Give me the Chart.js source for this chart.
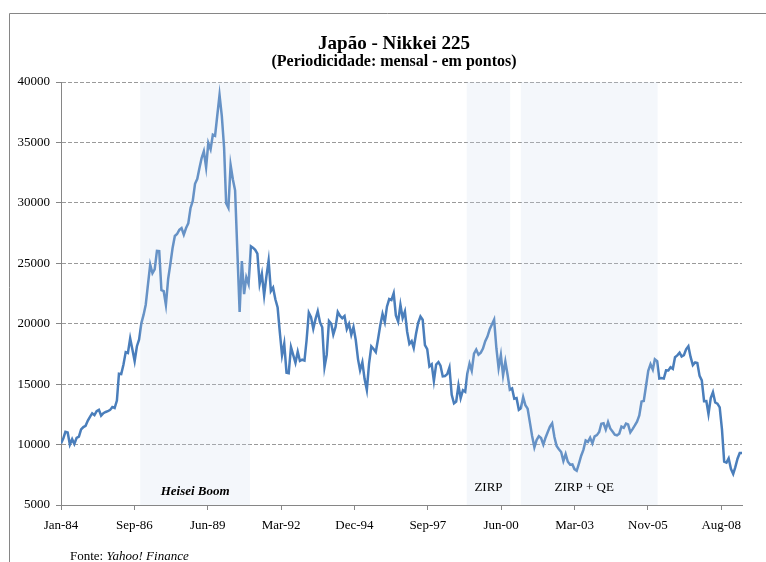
<!DOCTYPE html>
<html>
<head>
<meta charset="utf-8">
<script src="https://cdn.jsdelivr.net/npm/chart.js@4.4.1/dist/chart.umd.min.js"></script>
<style>
  html, body { margin: 0; padding: 0; background: #fff; }
  #wrap { position: relative; width: 766px; height: 562px; }
</style>
</head>
<body>
<div id="wrap"><canvas id="myChart" width="766" height="562"></canvas></div>
<script>
// Nikkei 225, fechamento mensal (pontos), a partir de jan/1984
const firstYear = 1984;
const closes = [
    10100, 10500, 11050, 11000, 10000, 10450, 10050, 10550, 10650, 11250, 11450, 11550, // 1984
    11990, 12320, 12580, 12430, 12760, 12880, 12400, 12600, 12700, 12760, 12870, 13110, // 1985
    13020, 13640, 15860, 15830, 16610, 17650, 17580, 18790, 17850, 16910, 18140, 18700, // 1986
    20050, 20770, 21570, 23270, 24900, 24180, 24490, 26030, 26010, 22770, 22690, 21560, // 1987
    23720, 24990, 26260, 27260, 27420, 27770, 27910, 27370, 27920, 28300, 29580, 30160, // 1988
    31580, 31990, 32840, 33710, 34270, 32950, 34950, 34430, 35640, 35550, 37270, 38920, // 1989
    37190, 34590, 29980, 29590, 33130, 31940, 31040, 25980, 20980, 25190, 22450, 23850, // 1990
    23290, 26410, 26290, 26110, 25790, 23290, 24120, 22340, 23920, 25220, 22690, 22980, // 1991
    22020, 21340, 19350, 17390, 18350, 15950, 15910, 18060, 17400, 16770, 17680, 16920, // 1992
    17020, 16950, 18590, 20920, 20550, 19590, 20380, 21030, 20110, 19700, 16410, 17420, // 1993
    20230, 20000, 19110, 19730, 20970, 20640, 20450, 20630, 19560, 19990, 19080, 19720, // 1994
    18650, 17050, 16140, 16810, 15440, 14520, 16680, 18120, 17910, 17650, 18740, 19870, // 1995
    20810, 20130, 21410, 22040, 21960, 22530, 20690, 20170, 21560, 20470, 21020, 19360, // 1996
    18330, 18560, 18000, 19150, 20070, 20600, 20330, 18230, 17890, 16460, 16640, 15260, // 1997
    16630, 16830, 16530, 15640, 15670, 15830, 16380, 14110, 13410, 13560, 14880, 13840, // 1998
    14500, 14370, 15840, 16700, 16110, 17530, 17860, 17440, 17610, 17940, 18560, 18930, // 1999
    19540, 19960, 20340, 17970, 16330, 17410, 15730, 16860, 15750, 14540, 14650, 13790, // 2000
    13840, 12880, 13000, 13930, 13260, 12970, 11860, 10710, 9770, 10370, 10700, 10540,  // 2001
    10000, 10590, 11020, 11490, 11760, 10620, 9880, 9620, 9380, 8640, 9220, 8580,       // 2002
    8340, 8360, 7970, 7830, 8420, 9080, 9560, 10340, 10220, 10560, 10100, 10680,        // 2003
    10780, 11040, 11720, 11760, 11240, 11860, 11330, 11080, 10820, 10770, 10900, 11490, // 2004
    11390, 11740, 11670, 11010, 11280, 11580, 11900, 12410, 13570, 13610, 14870, 16110, // 2005
    16650, 16210, 17060, 16910, 15470, 15510, 15460, 16140, 16130, 16400, 16270, 17230, // 2006
    17380, 17600, 17290, 17400, 17880, 18140, 17250, 16570, 16790, 16740, 15680, 15310, // 2007
    13590, 13600, 12530, 13850, 14340, 13480, 13380, 13070, 11260, 8580, 8510, 8860,    // 2008
    7990, 7570, 8110, 8830, 9300, 9300                                                  // 2009
];

// rótulos do eixo X, um a cada 1000 dias desde 01/01/1984
const xTickLabels = ['Jan-84', 'Sep-86', 'Jun-89', 'Mar-92', 'Dec-94', 'Sep-97', 'Jun-00', 'Mar-03', 'Nov-05', 'Aug-08'];
const xTickStepDays = 1000;
const yMin = 5000;
const yMax = 40000;
const yStep = 5000;

// períodos destacados
const periodNames = ['Heisei Boom', 'ZIRP', 'ZIRP + QE'];
const periodStart = ['1986-12-16', '1999-02-22', '2001-03-01'];
const periodEnd = ['1991-01-21', '2000-10-06', '2006-04-08'];

const SERIF = "'Liberation Serif', 'Times New Roman', serif";
const LINE_BLUE = '#4a7ebb';
const AXIS_GREY = '#868686';

function dayNum(y, m, d) {
    return (Date.UTC(y, m, d) - Date.UTC(firstYear, 0, 1)) / 864e5;
}
function isoDay(s) {
    const p = s.split('-').map(Number);
    return dayNum(p[0], p[1] - 1, p[2]);
}

const points = closes.map((v, i) => ({
    x: dayNum(firstYear + Math.floor(i / 12), i % 12, 1),
    y: v
}));
const lastDay = points[points.length - 1].x;

// texto em negrito levemente condensado (como Times no Excel)
function condensedText(ctx, text, x, y, size, targetWidth) {
    ctx.font = 'bold ' + size + 'px ' + SERIF;
    const w = ctx.measureText(text).width;
    const k = Math.min(1, targetWidth / w);
    ctx.save();
    ctx.translate(x, y);
    ctx.scale(k, 1);
    ctx.fillText(text, 0, 0);
    ctx.restore();
}

const shadePlugin = {
    id: 'shade',
    afterDatasetsDraw(chart) {
        const {ctx, chartArea, scales} = chart;
        ctx.save();
        ctx.fillStyle = 'rgba(205, 219, 238, 0.22)';
        periodNames.forEach((name, i) => {
            const x1 = scales.x.getPixelForValue(isoDay(periodStart[i]));
            const x2 = scales.x.getPixelForValue(isoDay(periodEnd[i]));
            ctx.fillRect(x1, chartArea.top, x2 - x1, chartArea.bottom - chartArea.top);
        });
        ctx.restore();
    },
    afterDraw(chart) {
        const {ctx, scales} = chart;
        ctx.save();
        // moldura
        ctx.strokeStyle = AXIS_GREY;
        ctx.lineWidth = 1;
        ctx.beginPath();
        ctx.moveTo(9.5, 562);
        ctx.lineTo(9.5, 13.5);
        ctx.lineTo(766, 13.5);
        ctx.stroke();

        ctx.fillStyle = '#000';
        ctx.textAlign = 'center';
        ctx.textBaseline = 'alphabetic';
        condensedText(ctx, 'Japão - Nikkei 225', 394, 49, 19.5, 152);
        condensedText(ctx, '(Periodicidade: mensal - em pontos)', 394, 66, 16, 245);

        // nomes dos períodos
        ctx.textBaseline = 'middle';
        const labelY = [492, 488, 488];
        const labelDx = [0, 0, -5];
        const labelFont = ['bold italic 13px ', '13px ', '13px '];
        periodNames.forEach((name, i) => {
            const x1 = scales.x.getPixelForValue(isoDay(periodStart[i]));
            const x2 = scales.x.getPixelForValue(isoDay(periodEnd[i]));
            ctx.font = labelFont[i] + SERIF;
            ctx.fillText(name, (x1 + x2) / 2 + labelDx[i], labelY[i]);
        });

        // fonte
        ctx.textAlign = 'left';
        ctx.font = '13px ' + SERIF;
        const pre = 'Fonte: ';
        ctx.fillText(pre, 70, 557);
        const w = ctx.measureText(pre).width;
        ctx.font = 'italic 13px ' + SERIF;
        ctx.fillText('Yahoo! Finance', 70 + w, 557);
        ctx.restore();
    }
};

const ctx = document.getElementById('myChart').getContext('2d');
const chart = new Chart(ctx, {
    type: 'line',
    data: {
        datasets: [{
            data: points,
            borderColor: LINE_BLUE,
            borderWidth: 2.5,
            pointRadius: 0,
            tension: 0,
            fill: false
        }]
    },
    options: {
        responsive: false,
        animation: false,
        devicePixelRatio: 1,
        layout: { padding: { top: 82, right: 24, bottom: 0, left: 0 } },
        plugins: {
            legend: { display: false },
            title: { display: false },
            tooltip: { enabled: false }
        },
        scales: {
            x: {
                type: 'linear',
                min: 0,
                max: lastDay,
                afterBuildTicks(scale) {
                    scale.ticks = xTickLabels.map((_, i) => ({ value: i * xTickStepDays }));
                },
                afterFit(scale) { scale.height = 57; },
                grid: {
                    drawOnChartArea: false,
                    drawTicks: true,
                    tickLength: 5,
                    tickColor: AXIS_GREY
                },
                border: { color: AXIS_GREY, width: 1 },
                ticks: {
                    autoSkip: false,
                    maxRotation: 0,
                    padding: 8,
                    color: '#000',
                    font: { family: SERIF, size: 13 },
                    callback: (value, index) => xTickLabels[index]
                }
            },
            y: {
                min: yMin,
                max: yMax,
                afterFit(scale) { scale.width = 61; },
                grid: {
                    color: '#9a9a9a',
                    lineWidth: 1,
                    tickLength: 5,
                    tickColor: AXIS_GREY,
                    tickBorderDash: []
                },
                border: { color: AXIS_GREY, width: 1, dash: [4, 2] },
                ticks: {
                    stepSize: yStep,
                    padding: 6,
                    color: '#000',
                    font: { family: SERIF, size: 13 },
                    callback: (value) => String(value)
                }
            }
        }
    },
    plugins: [shadePlugin]
});
</script>
</body>
</html>
